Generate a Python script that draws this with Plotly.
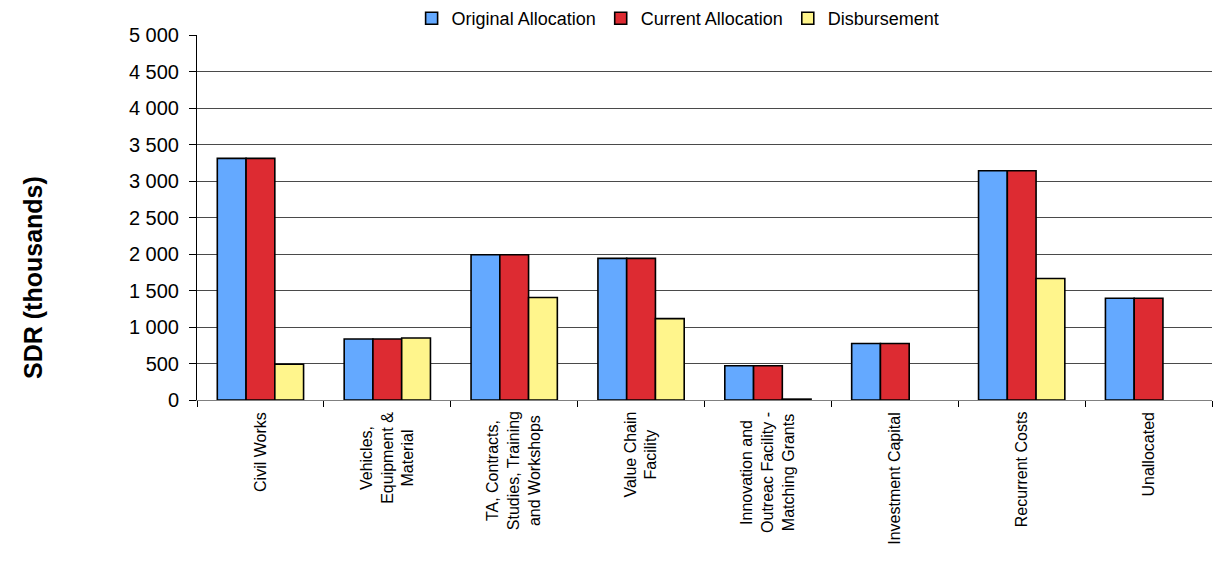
import plotly.graph_objects as go

categories = [
    "Civil Works",
    "Vehicles,<br>Equipment &<br>Material",
    "TA, Contracts,<br>Studies, Training<br>and Workshops",
    "Value Chain<br>Facility",
    "Innovation and<br>Outreac Facility -<br>Matching Grants",
    "Investment Capital",
    "Recurrent Costs",
    "Unallocated",
]
original_allocation = [3310, 835, 1990, 1940, 470, 775, 3140, 1393]
current_allocation = [3310, 835, 1990, 1940, 470, 775, 3140, 1393]
disbursement = [490, 850, 1405, 1115, 12, None, 1665, None]
y_ticks = [0, 500, 1000, 1500, 2000, 2500, 3000, 3500, 4000, 4500, 5000]

FONT = "Liberation Sans, Arial, sans-serif"

fig = go.Figure()
series = [
    ("Original Allocation", original_allocation, "#64A9FF"),
    ("Current Allocation", current_allocation, "#DD2B32"),
    ("Disbursement", disbursement, "#FFF58C"),
]
for name, vals, col in series:
    fig.add_trace(go.Bar(
        name=name, x=categories, y=vals,
        marker=dict(color=col, line=dict(color="#000000", width=1.6)),
    ))

annotations = []
for c in categories:
    annotations.append(dict(
        x=c, xref="x", y=-0.026, yref="paper",
        text=c, showarrow=False, textangle=-90,
        xanchor="center", yanchor="top", align="center",
        font=dict(family=FONT, size=16, color="#000000"),
    ))
annotations.append(dict(
    x=-0.1616, xref="paper", y=0.337, yref="paper",
    text="<b>SDR (thousands)</b>", showarrow=False, textangle=-90,
    xanchor="center", yanchor="middle",
    font=dict(family=FONT, size=25, color="#000000"),
))

fig.update_layout(
    width=1217, height=566,
    margin=dict(l=197, r=5, t=35, b=166, autoexpand=False),
    paper_bgcolor="white", plot_bgcolor="white",
    barmode="group", bargap=0.32, bargroupgap=0,
    separators=". ",
    font=dict(family=FONT, color="#000000"),
    showlegend=True,
    legend=dict(
        orientation="h", x=0.474, xanchor="center",
        y=1.0, yref="container", yanchor="top",
        font=dict(family=FONT, size=18, color="#000000"),
        itemwidth=30, tracegroupgap=0,
    ),
    annotations=annotations,
)
fig.update_xaxes(
    showticklabels=False, ticks="outside", tickson="boundaries",
    ticklen=6, tickcolor="#000000",
    showline=True, linecolor="#808080", linewidth=1,
    showgrid=False, zeroline=False,
)
fig.update_yaxes(
    range=[0, 5000], tickvals=y_ticks, tickformat=",",
    ticks="outside", ticklen=7, tickcolor="#000000",
    tickfont=dict(family=FONT, size=20, color="#000000"),
    ticklabelstandoff=6,
    showline=True, linecolor="#000000", linewidth=1,
    showgrid=True, gridcolor="#4a4a4a", gridwidth=1,
    zeroline=False,
)

fig.write_html("out.html")
